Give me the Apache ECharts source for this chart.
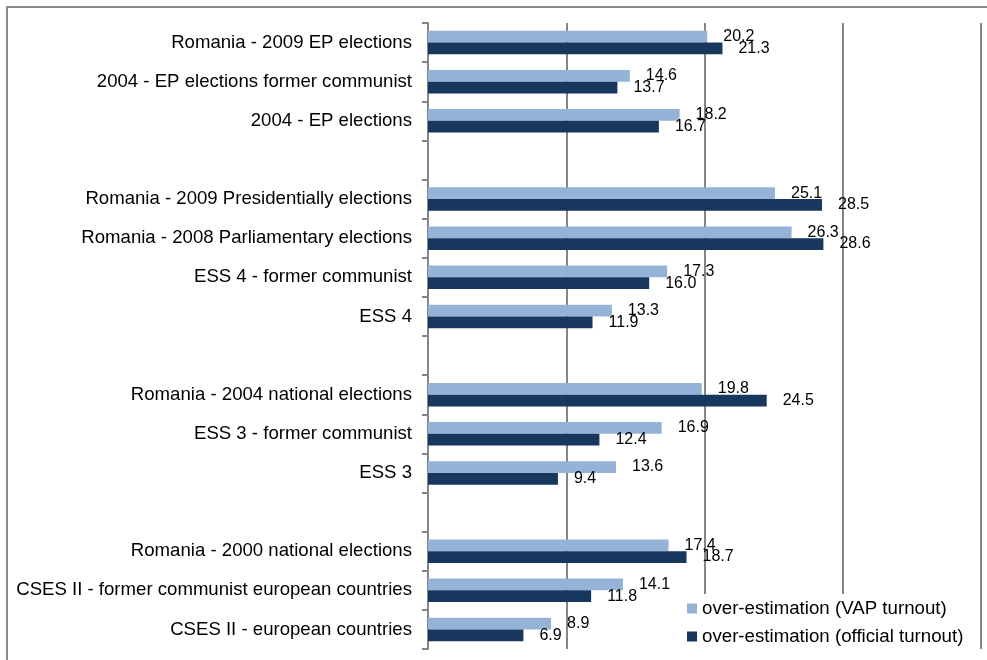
<!DOCTYPE html>
<html>
<head>
<meta charset="utf-8">
<script src="https://cdn.jsdelivr.net/npm/echarts@6/dist/echarts.min.js"></script>
<style>
  html, body { margin: 0; padding: 0; background: #fff; }
  #chart { width: 987px; height: 660px; }
</style>
</head>
<body>
<div id="chart"></div>
<script>
// Survey over-estimation of turnout, grouped by study (blank rows separate groups)
const categories = [
  'Romania - 2009 EP elections',
  '2004 - EP elections former communist',
  '2004 - EP elections',
  ' ',
  'Romania - 2009 Presidentially elections',
  'Romania - 2008 Parliamentary elections',
  'ESS 4 - former communist',
  'ESS 4',
  '  ',
  'Romania - 2004 national elections',
  'ESS 3 - former communist',
  'ESS 3',
  '   ',
  'Romania - 2000 national elections',
  'CSES II - former communist european countries',
  'CSES II - european countries'
];
const vapTurnout = [20.2, 14.6, 18.2, null, 25.1, 26.3, 17.3, 13.3, null, 19.8, 16.9, 13.6, null, 17.4, 14.1, 8.9];
const officialTurnout = [21.3, 13.7, 16.7, null, 28.5, 28.6, 16.0, 11.9, null, 24.5, 12.4, 9.4, null, 18.7, 11.8, 6.9];
const seriesNames = ['over-estimation (VAP turnout)', 'over-estimation (official turnout)'];
const axisTicks = { min: 0, max: 40, interval: 10 };

const FONT = "'Liberation Sans', Arial, sans-serif";
const GRID_GRAY = '#858585';

const chart = echarts.init(document.getElementById('chart'), null, { renderer: 'canvas' });

function valueLabel() {
  return {
    show: true,
    position: 'right',
    distance: 16,
    color: '#000',
    fontFamily: FONT,
    fontSize: 16,
    formatter: p => (p.value == null ? '' : Number(p.value).toFixed(1))
  };
}

chart.setOption({
  animation: false,
  backgroundColor: '#fff',
  textStyle: { fontFamily: FONT },
  graphic: [{
    type: 'rect',
    shape: { x: 7, y: 7, width: 1200, height: 900 },
    style: { fill: 'none', stroke: '#8c8c8c', lineWidth: 2 },
    silent: true,
    z: -1
  }],
  grid: { left: 428, top: 23, width: 553, height: 626, containLabel: false },
  xAxis: {
    type: 'value',
    min: axisTicks.min,
    max: axisTicks.max,
    interval: axisTicks.interval,
    axisLabel: { show: false },
    axisLine: { show: false },
    axisTick: { show: false },
    splitLine: { show: true, lineStyle: { color: GRID_GRAY, width: 2 } }
  },
  yAxis: {
    type: 'category',
    data: categories,
    inverse: true,
    axisLine: { show: true, lineStyle: { color: GRID_GRAY, width: 2 } },
    axisTick: { show: true, length: 6, lineStyle: { color: GRID_GRAY, width: 2 } },
    axisLabel: { color: '#000', fontSize: 18.6, fontFamily: FONT, margin: 16 }
  },
  legend: {
    orient: 'vertical',
    left: 682,
    top: 594,
    padding: [5, 6, 5, 5],
    backgroundColor: '#fff',
    itemWidth: 10,
    itemHeight: 10,
    itemGap: 9,
    icon: 'rect',
    textStyle: { color: '#000', fontSize: 18.7, fontFamily: FONT, lineHeight: 18 },
    data: seriesNames
  },
  series: [
    {
      name: seriesNames[0],
      type: 'bar',
      data: vapTurnout,
      barCategoryGap: '40%',
      barGap: '0%',
      itemStyle: { color: '#95B3D7' },
      label: valueLabel()
    },
    {
      name: seriesNames[1],
      type: 'bar',
      data: officialTurnout,
      barCategoryGap: '40%',
      barGap: '0%',
      itemStyle: { color: '#17375E' },
      label: valueLabel()
    }
  ]
});
</script>
</body>
</html>
